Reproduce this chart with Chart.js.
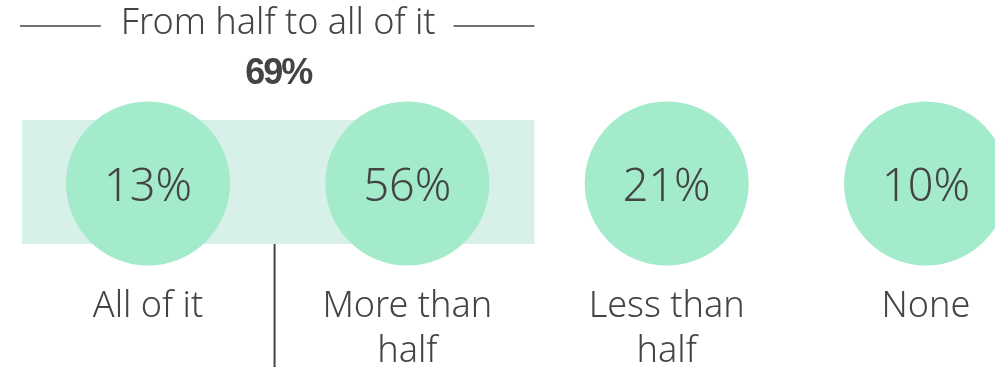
<!DOCTYPE html>
<html>
<head>
<meta charset="utf-8">
<script src="https://cdn.jsdelivr.net/npm/chart.js@4"></script>
<style>
  html, body { margin: 0; padding: 0; background: #fff; }
  #wrap { width: 995px; height: 367px; }
</style>
</head>
<body>
<div id="wrap"><canvas id="shareChart"></canvas></div>
<script>
// Data
const categories = [['All of it'], ['More than', 'half'], ['Less than', 'half'], ['None']];
const shares = [13, 56, 21, 10];
const groupTitle = 'From half to all of it';
const groupValue = '69%';
const groupMembers = [0, 1];

const textColor = '#444444';
const lightFont = '"Noto Sans", "Open Sans", sans-serif';

// background band, labels and header
const decorations = {
  id: 'decorations',
  beforeDatasetsDraw(chart) {
    const { ctx, scales: { x, y } } = chart;
    const left = x.getPixelForValue(groupMembers[0] - 0.486);
    const right = x.getPixelForValue(groupMembers[groupMembers.length - 1] + 0.49);
    const top = y.getPixelForValue(0.346);
    const bottom = y.getPixelForValue(-0.33);
    ctx.save();
    ctx.fillStyle = '#d7f0e8';
    ctx.fillRect(left, top, right - left, bottom - top);
    ctx.restore();
  },
  afterDatasetsDraw(chart) {
    const { ctx, scales: { x, y } } = chart;
    ctx.save();
    ctx.fillStyle = textColor;
    ctx.textAlign = 'center';
    ctx.textBaseline = 'alphabetic';

    // values inside circles
    ctx.font = '300 45px ' + lightFont;
    shares.forEach((v, i) => {
      ctx.fillText(v + '%', x.getPixelForValue(i), y.getPixelForValue(0) + 17);
    });

    // category labels
    ctx.font = '300 36px ' + lightFont;
    categories.forEach((lines, i) => {
      lines.forEach((line, j) => {
        ctx.fillText(line, x.getPixelForValue(i), 317 + j * 45);
      });
    });

    // group header
    const left = x.getPixelForValue(groupMembers[0] - 0.486);
    const right = x.getPixelForValue(groupMembers[groupMembers.length - 1] + 0.49);
    const mid = (left + right) / 2;
    ctx.font = '300 36px ' + lightFont;
    ctx.fillText(groupTitle, mid, 34);
    const tw = ctx.measureText(groupTitle).width;
    ctx.strokeStyle = textColor;
    ctx.lineWidth = 1.5;
    ctx.beginPath();
    ctx.moveTo(left - 2, 26);
    ctx.lineTo(mid - tw / 2 - 20, 26);
    ctx.moveTo(mid + tw / 2 + 18, 26);
    ctx.lineTo(right, 26);
    ctx.stroke();

    ctx.font = 'bold 36px "Liberation Sans", Arial, sans-serif';
    ctx.letterSpacing = '-2px';
    ctx.fillText(groupValue, mid, 84);
    ctx.letterSpacing = '0px';

    // divider under the band
    const divX = x.getPixelForValue(0.488);
    ctx.lineWidth = 2;
    ctx.beginPath();
    ctx.moveTo(divX, y.getPixelForValue(-0.33));
    ctx.lineTo(divX, 367);
    ctx.stroke();
    ctx.restore();
  }
};

new Chart(document.getElementById('shareChart'), {
  type: 'bubble',
  data: {
    datasets: [{
      data: shares.map((v, i) => ({ x: i, y: 0, r: 82 })),
      backgroundColor: '#a3ebcb',
      borderWidth: 0,
      hoverRadius: 0,
      clip: false
    }]
  },
  options: {
    responsive: true,
    maintainAspectRatio: false,
    animation: false,
    events: [],
    layout: { padding: 0, autoPadding: false },
    scales: {
      x: { type: 'linear', min: -0.5707, max: 3.266, display: false },
      y: { type: 'linear', min: -1, max: 1, display: false }
    },
    plugins: {
      legend: { display: false },
      tooltip: { enabled: false }
    }
  },
  plugins: [decorations]
});
</script>
</body>
</html>
